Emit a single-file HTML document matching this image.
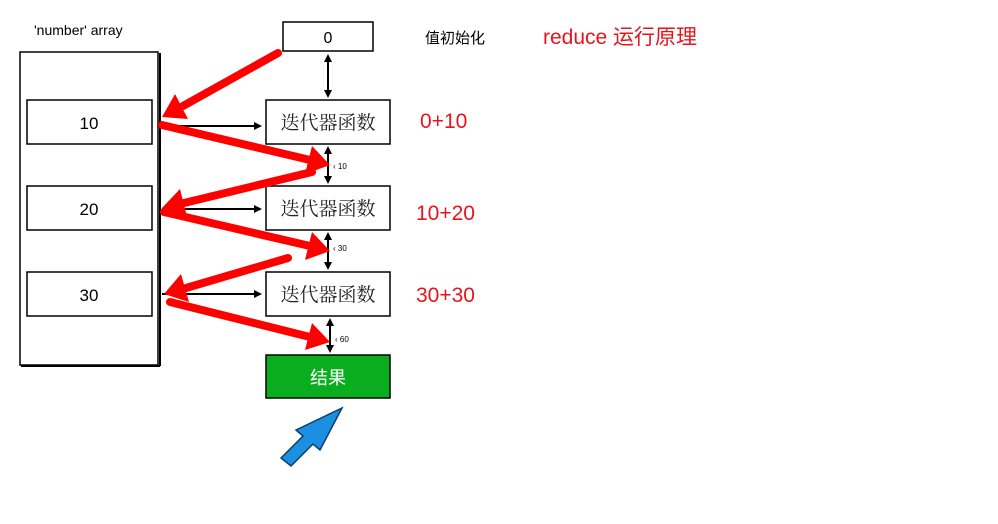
<!DOCTYPE html>
<html><head><meta charset="utf-8"><style>
body{margin:0;background:#fff;width:998px;height:524px;overflow:hidden}
svg{display:block}
</style></head><body>
<svg width="998" height="524" viewBox="0 0 998 524" xmlns="http://www.w3.org/2000/svg">
<defs>
<marker id="bk" markerWidth="8" markerHeight="8" refX="6" refY="4" orient="auto" markerUnits="userSpaceOnUse"><path d="M0,0 L8,4 L0,8 Z" fill="#000"/></marker>
<marker id="bks" markerWidth="8" markerHeight="8" refX="2" refY="4" orient="auto" markerUnits="userSpaceOnUse"><path d="M8,0 L0,4 L8,8 Z" fill="#000"/></marker>
</defs>
<g font-family="Liberation Sans, Noto Sans CJK SC, sans-serif">
<text x="34" y="35" font-size="14" fill="#000">'number' array</text>
<rect x="20" y="52" width="138" height="313" fill="#fff" stroke="#000" stroke-width="1.5"/>
<line x1="160" y1="53" x2="160" y2="366" stroke="#000" stroke-width="2"/>
<line x1="21" y1="366" x2="160" y2="366" stroke="#000" stroke-width="2"/>
<g fill="#fff" stroke="#000" stroke-width="1.5">
<rect x="27" y="100" width="125" height="44"/>
<rect x="27" y="186" width="125" height="44"/>
<rect x="27" y="272" width="125" height="44"/>
<rect x="283" y="22" width="90" height="29"/>
<rect x="266" y="100" width="124" height="44"/>
<rect x="266" y="186" width="124" height="44"/>
<rect x="266" y="272" width="124" height="44"/>
</g>
<rect x="266" y="355" width="124" height="43" fill="#0aad1e" stroke="#000" stroke-width="1.5"/>
<g font-size="17" text-anchor="middle" fill="#000">
<text x="89" y="129">10</text><text x="89" y="215">20</text><text x="89" y="301">30</text>
<text x="328" y="43" font-size="16">0</text>
</g>
<g font-size="19" text-anchor="middle" fill="#222" font-family="Liberation Serif, Noto Serif CJK SC, serif">
<text x="328" y="129">迭代器函数</text><text x="328" y="215">迭代器函数</text><text x="328" y="301">迭代器函数</text>
</g>
<text x="328" y="384" font-size="18" text-anchor="middle" fill="#fff">结果</text>
<text x="425" y="43" font-size="15" fill="#000">值初始化</text>
<text x="543" y="44" font-size="21" fill="#e8141b">reduce 运行原理</text>
<g font-size="21" fill="#e8141b">
<text x="420" y="128">0+10</text><text x="416" y="220">10+20</text><text x="416" y="302">30+30</text>
</g>
<g stroke="#000" stroke-width="2">
<line x1="328" y1="56" x2="328" y2="96" marker-start="url(#bks)" marker-end="url(#bk)"/>
<line x1="328" y1="148" x2="328" y2="182" marker-start="url(#bks)" marker-end="url(#bk)"/>
<line x1="328" y1="234" x2="328" y2="268" marker-start="url(#bks)" marker-end="url(#bk)"/>
<line x1="330" y1="320" x2="330" y2="351" marker-start="url(#bks)" marker-end="url(#bk)"/>
<line x1="162" y1="126" x2="260" y2="126" marker-end="url(#bk)"/>
<line x1="162" y1="209" x2="260" y2="209" marker-end="url(#bk)"/>
<line x1="162" y1="294" x2="260" y2="294" marker-end="url(#bk)"/>
</g>
<g font-size="8" fill="#000"><text x="333" y="169">‹ 10</text><text x="333" y="251">‹ 30</text><text x="335" y="342">‹ 60</text></g>
<g stroke="#ff0000" stroke-width="8" stroke-linecap="round">
<line x1="278" y1="53" x2="183" y2="106"/>
<line x1="162" y1="125" x2="310" y2="160"/>
<line x1="312" y1="172" x2="184" y2="203"/>
<line x1="164" y1="212" x2="310" y2="246"/>
<line x1="288" y1="258" x2="186" y2="288"/>
<line x1="170" y1="302" x2="310" y2="337"/>
</g>
<g fill="#ff0000">
<polygon points="162,117 188,119 175,94"/>
<polygon points="330,165 305,174 312,146"/>
<polygon points="162,208 180,189 187,217"/>
<polygon points="330,251 305,260 312,232"/>
<polygon points="164,294 189,302 181,274"/>
<polygon points="330,342 305,350 312,323"/>
</g>
<polygon points="281,458 303,436 296,430 342,408 320,450 313,444 291,466" fill="#1d8fe0" stroke="#0a3d70" stroke-width="1.5"/>
</g>
</svg>
</body></html>
